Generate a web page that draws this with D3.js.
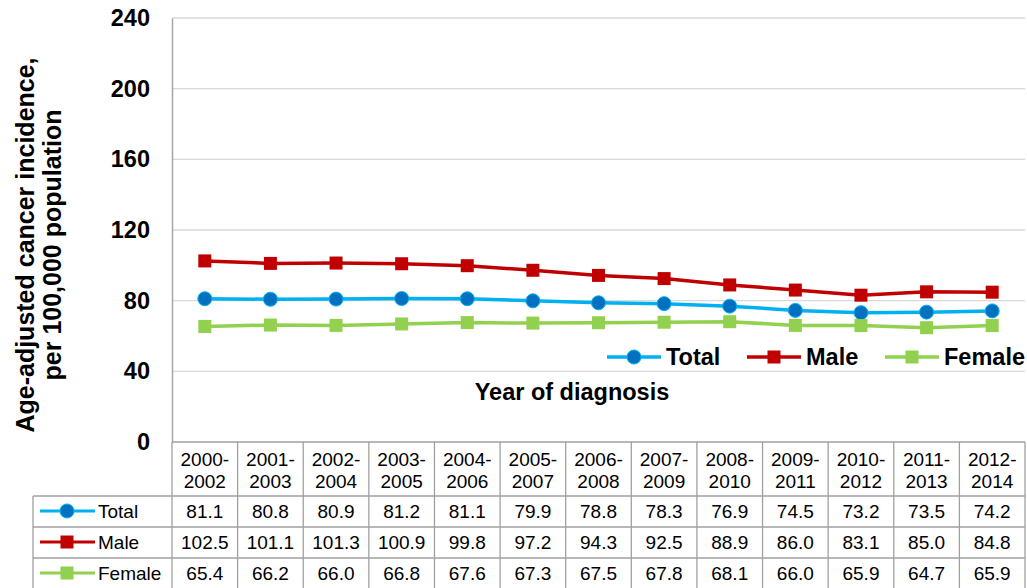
<!DOCTYPE html>
<html><head><meta charset="utf-8">
<script src="https://cdn.jsdelivr.net/npm/d3@7"></script>
<style>body{margin:0;background:#fff;}svg{display:block;font-family:"Liberation Sans",Arial,sans-serif;}</style>
</head><body>
<svg id="chart" width="1027" height="588"></svg>
<script>
const categories = ["2000-2002","2001-2003","2002-2004","2003-2005","2004-2006","2005-2007","2006-2008","2007-2009","2008-2010","2009-2011","2010-2012","2011-2013","2012-2014"];
const totalValues = [81.1,80.8,80.9,81.2,81.1,79.9,78.8,78.3,76.9,74.5,73.2,73.5,74.2];
const maleValues = [102.5,101.1,101.3,100.9,99.8,97.2,94.3,92.5,88.9,86.0,83.1,85.0,84.8];
const femaleValues = [65.4,66.2,66.0,66.8,67.6,67.3,67.5,67.8,68.1,66.0,65.9,64.7,65.9];
const yTicks = [0,40,80,120,160,200,240];
const seriesNames = ["Total","Male","Female"];

(function(){
const series = [
  {name: seriesNames[0], values: totalValues, line: "#00B0F0", fill: "#0070C0", shape: "circle"},
  {name: seriesNames[1], values: maleValues, line: "#C00000", fill: "#C00000", shape: "square"},
  {name: seriesNames[2], values: femaleValues, line: "#92D050", fill: "#92D050", shape: "square"}
];

const svg = d3.select("#chart");
const pl = 172, pr = 1025, pt = 18, pb = 442;
const x = d3.scaleBand().domain(categories).range([pl, pr]).padding(0);
const y = d3.scaleLinear().domain([0, 240]).range([pb, pt]);
const boldSize = 23.5, tableSize = 19;

// gridlines
svg.append("g").selectAll("line").data(yTicks.filter(d => d > 0)).join("line")
  .attr("x1", pl).attr("x2", pr)
  .attr("y1", d => y(d)).attr("y2", d => y(d))
  .attr("stroke", "#d9d9d9").attr("stroke-width", 1.3);

// y axis
const yAxis = svg.append("g").attr("transform", `translate(${pl},0)`)
  .call(d3.axisLeft(y).tickValues(yTicks).tickSize(0).tickPadding(22));
yAxis.select(".domain").attr("stroke", "#a6a6a6").attr("stroke-width", 1.5);
yAxis.selectAll("text").attr("font-size", boldSize).attr("font-weight", "bold")
  .attr("fill", "#000").attr("font-family", "Liberation Sans, Arial, sans-serif");

// y axis title
const yt = svg.append("text").attr("transform", "translate(0,245) rotate(-90)")
  .attr("text-anchor", "middle").attr("font-size", 25).attr("font-weight", "bold");
yt.append("tspan").attr("x", 0).attr("y", 34).text("Age-adjusted cancer incidence,");
yt.append("tspan").attr("x", 0).attr("y", 61).text("per 100,000 population");

// x title
svg.append("text").attr("x", 572).attr("y", 400).attr("text-anchor", "middle")
  .attr("font-size", boldSize).attr("font-weight", "bold").text("Year of diagnosis");

// lines
const lineGen = d3.line().x((d, i) => x(categories[i]) + x.bandwidth() / 2).y(d => y(d));
series.forEach(s => {
  svg.append("path").datum(s.values).attr("d", lineGen)
    .attr("fill", "none").attr("stroke", s.line).attr("stroke-width", 3.5);
  const g = svg.append("g");
  if (s.shape === "circle") {
    g.selectAll("circle").data(s.values).join("circle")
      .attr("cx", (d, i) => x(categories[i]) + x.bandwidth() / 2).attr("cy", d => y(d))
      .attr("r", 7).attr("fill", s.fill).attr("stroke", s.line).attr("stroke-width", 1);
  } else {
    g.selectAll("rect").data(s.values).join("rect")
      .attr("x", (d, i) => x(categories[i]) + x.bandwidth() / 2 - 6.5).attr("y", d => y(d) - 6.5)
      .attr("width", 13).attr("height", 13).attr("fill", s.fill);
  }
});

// legend
function legendMarker(g, s, cx, cy) {
  g.append("line").attr("x1", cx - 27).attr("x2", cx + 27).attr("y1", cy).attr("y2", cy)
    .attr("stroke", s.line).attr("stroke-width", 3.5);
  if (s.shape === "circle") g.append("circle").attr("cx", cx).attr("cy", cy).attr("r", 7)
    .attr("fill", s.fill).attr("stroke", s.line);
  else g.append("rect").attr("x", cx - 6.5).attr("y", cy - 6.5).attr("width", 13).attr("height", 13).attr("fill", s.fill);
}
const legendX = [634, 774, 912];
series.forEach((s, i) => {
  const g = svg.append("g");
  legendMarker(g, s, legendX[i], 357);
  g.append("text").attr("x", legendX[i] + 32).attr("y", 365).attr("font-size", boldSize)
    .attr("font-weight", "bold").text(s.name);
});

// data table
const tableColor = "#a0a0a0";
const headerBottom = 496, rowH = 31, tableLeft = 33;
const rowsY = [headerBottom, headerBottom + rowH, headerBottom + 2 * rowH, 590];
const tg = svg.append("g");
categories.forEach((c, i) => {
  tg.append("line").attr("x1", x(c)).attr("x2", x(c)).attr("y1", pb).attr("y2", 590)
    .attr("stroke", tableColor).attr("stroke-width", 1.3);
});
tg.append("line").attr("x1", pr).attr("x2", pr).attr("y1", pb).attr("y2", 590)
  .attr("stroke", tableColor).attr("stroke-width", 1.3);
tg.append("line").attr("x1", pl).attr("x2", pr).attr("y1", pb).attr("y2", pb)
  .attr("stroke", tableColor).attr("stroke-width", 1.3);
rowsY.slice(0, 3).forEach(yy => {
  tg.append("line").attr("x1", tableLeft).attr("x2", pr).attr("y1", yy).attr("y2", yy)
    .attr("stroke", tableColor).attr("stroke-width", 1.3);
});
tg.append("line").attr("x1", tableLeft).attr("x2", tableLeft).attr("y1", headerBottom).attr("y2", 590)
  .attr("stroke", tableColor).attr("stroke-width", 1.3);
categories.forEach(c => {
  const parts = c.split("-");
  const t = tg.append("text").attr("text-anchor", "middle").attr("font-size", tableSize);
  t.append("tspan").attr("x", x(c) + x.bandwidth() / 2).attr("y", 466).text(parts[0] + "-");
  t.append("tspan").attr("x", x(c) + x.bandwidth() / 2).attr("y", 488).text(parts[1]);
});
series.forEach((s, r) => {
  const top0 = rowsY[r];
  const g = tg.append("g");
  legendMarker(g, s, 67, top0 + 15);
  g.select("line").attr("x1", 40).attr("x2", 95).attr("stroke-width", 3.2);
  g.append("text").attr("x", 98).attr("y", top0 + 21.5).attr("font-size", tableSize).text(s.name);
  s.values.forEach((v, i) => {
    g.append("text").attr("x", x(categories[i]) + x.bandwidth() / 2).attr("y", top0 + 21.5)
      .attr("text-anchor", "middle").attr("font-size", tableSize).text(v.toFixed(1));
  });
});
})();
</script>
</body></html>
